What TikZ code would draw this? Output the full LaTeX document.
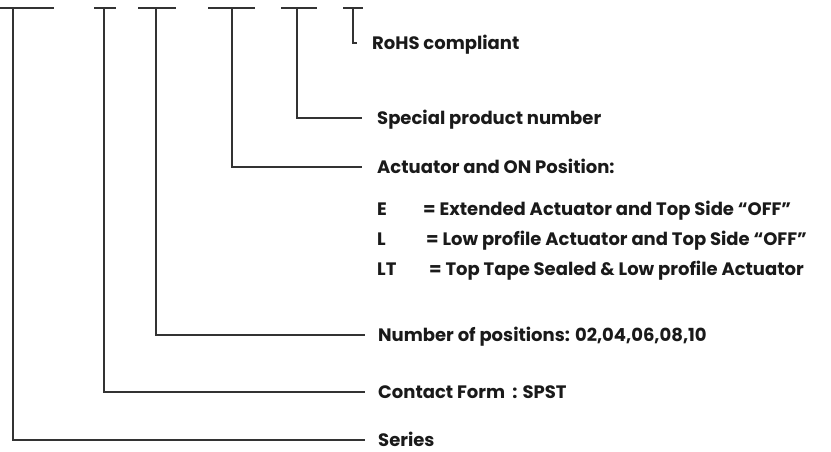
\documentclass[tikz,border=0pt]{standalone}
\usepackage{fontspec}
\setmainfont{Poppins}
\usepackage{tikz}
\definecolor{leadgray}{HTML}{333333}
\definecolor{textblack}{HTML}{1A1A1A}
\tikzstyle{leader} = [draw=leadgray, line width=1.2pt]
\tikzstyle{field} = [anchor=west, inner xsep=13pt, inner ysep=0pt, text height=12.5pt, text depth=0pt, text=textblack, font=\fontsize{18}{21}\selectfont\bfseries]
\tikzstyle{code} = [anchor=west, inner sep=0pt, text height=12.5pt, text depth=0pt, text=textblack, font=\fontsize{18}{21}\selectfont\bfseries]

\begin{document}
\begin{tikzpicture}[x=1pt, y=-1pt]
	\useasboundingbox (0,0) rectangle (831,452);
	%----------------------------------------------------%
	\coordinate (series) at (13,8);
	\coordinate (contact) at (104,8);
	\coordinate (positions) at (156,8);
	\coordinate (actuator) at (232,8);
	\coordinate (special) at (297,8);
	\coordinate (rohs) at (353,8);
	
	\draw[leader] (0,8) -- (54,8);
	\draw[leader] (94,8) -- (116,8);
	\draw[leader] (138,8) -- (176,8);
	\draw[leader] (208,8) -- (255,8);
	\draw[leader] (281,8) -- (317,8);
	\draw[leader] (343,8) -- (363,8);
	
	%----------------------------------------------------%
	\node(rohsT) [field, inner xsep=15pt] at (357,43) {RoHS compliant};
	\node(specialT) [field, inner xsep=15pt] at (362,118) {Special product number};
	\node(actuatorT) [field, inner xsep=15pt] at (362,167) {Actuator and ON Position:};
	\node(positionsT) [field] at (365,335) {Number of positions: 02,04,06,08,10};
	\node(contactT) [field] at (365,392) {Contact Form\hspace{0.4em}: SPST};
	\node(seriesT) [field] at (365,440) {Series};
	
	\draw[leader] (rohs) |- (357,43);
	\draw[leader] (special) |- (specialT.west);
	\draw[leader] (actuator) |- (actuatorT.west);
	\draw[leader] (positions) |- (positionsT.west);
	\draw[leader] (contact) |- (contactT.west);
	\draw[leader] (series) |- (seriesT.west);
	
	%----------------------------------------------------%
	\node(codeE) [code] at (377,209) {E};
	\node(codeL) [code] at (377,239) {L};
	\node(codeLT) [code] at (377,269) {LT};
	\node(descE) [code] at (423,209) {= Extended Actuator and Top Side “OFF”};
	\node(descL) [code] at (426,239) {= Low profile Actuator and Top Side “OFF”};
	\node(descLT) [code] at (429,269) {= Top Tape Sealed \& Low profile Actuator};
\end{tikzpicture}
\end{document}
